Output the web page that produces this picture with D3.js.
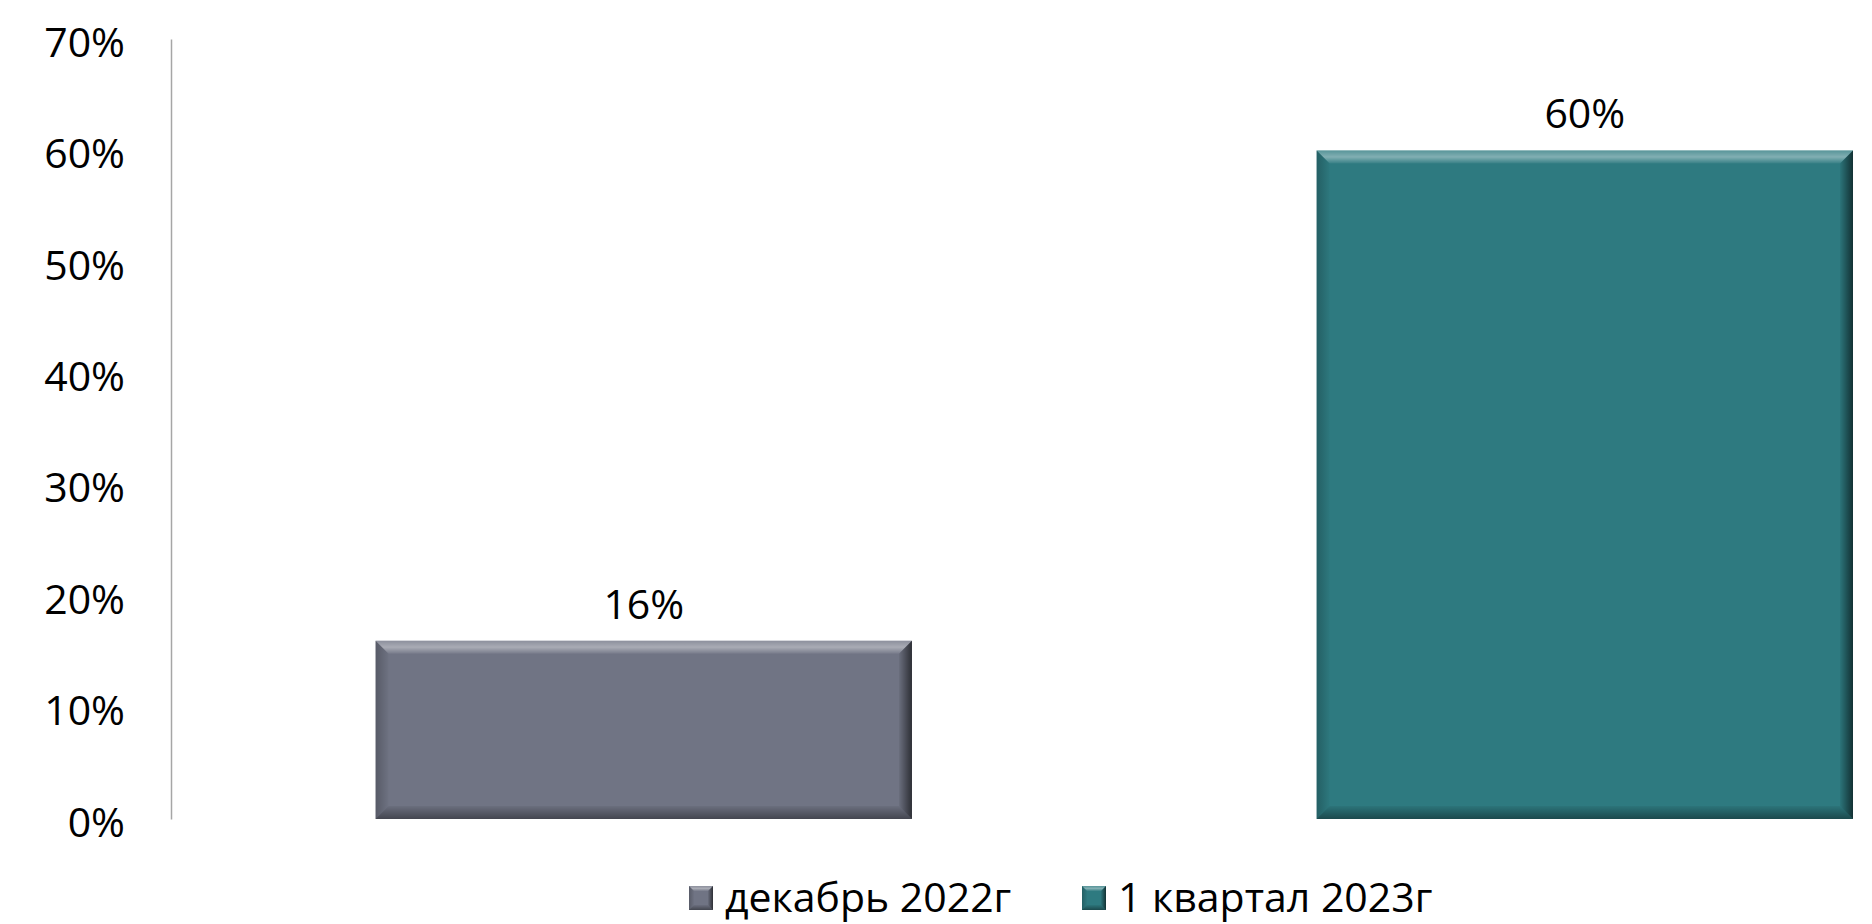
<!DOCTYPE html>
<html>
<head>
  <meta charset="utf-8">
  <title>Chart</title>
  <style>
    body { margin: 0; background: #fff; }
    text { font-family: "Open Sans", "Noto Sans", sans-serif; }
  </style>
</head>
<body>
  <div class="container"></div>

  <script src="https://d3js.org/d3.v7.min.js"></script>
  <script>
    var categories = ["декабрь 2022г", "1 квартал 2023г"];
    var values = [16, 60];
    var colors = ["#707484", "#2e7a80"];
    var tickValues = [0, 10, 20, 30, 40, 50, 60, 70];

    var width = 1872, height = 924;
    var plotLeft = 171, plotTop = 39, plotBottom = 819;

    var svg = d3.select(".container").append("svg")
      .attr("width", width)
      .attr("height", height);

    var defs = svg.append("defs");
    // bevel gradients
    function grad(id, x2, y2, stops) {
      var g = defs.append("linearGradient").attr("id", id)
        .attr("x1", 0).attr("y1", 0).attr("x2", x2).attr("y2", y2);
      stops.forEach(function(s) {
        g.append("stop").attr("offset", s[0]).attr("stop-color", s[1]).attr("stop-opacity", s[2]);
      });
    }
    grad("bvTop", 0, 1, [[0, "#ffffff", 0.2], [0.5, "#ffffff", 0.4], [1, "#ffffff", 0.05]]);
    grad("bvRight", 1, 0, [[0, "#000000", 0.05], [1, "#000000", 0.6]]);
    grad("bvBottom", 0, 1, [[0, "#000000", 0.05], [1, "#000000", 0.4]]);
    grad("bvLeft", 1, 0, [[0, "#000000", 0.22], [1, "#000000", 0.02]]);

    var yScale = d3.scaleLinear()
      .domain([0, 70])
      .range([plotBottom, plotTop]);

    var xScale = d3.scaleBand()
      .domain(categories)
      .range([plotLeft, 1853])
      .paddingInner(0.43)
      .paddingOuter(0.1087)
      .align(1);

    // y axis: line + labels only
    var yAxis = svg.append("g")
      .attr("transform", "translate(" + plotLeft + ",0)")
      .call(d3.axisLeft(yScale).tickValues(tickValues).tickSize(0).tickPadding(46)
        .tickFormat(function(d) { return d + "%"; }));
    yAxis.select(".domain").attr("stroke", "#a6a6a6").attr("stroke-width", 1.5);
    yAxis.selectAll("text")
      .attr("font-size", 41)
      .attr("fill", "#000")
      .attr("dy", "0.42em")
      .style("font-family", "'Open Sans', sans-serif");

    function bevel(g, x, y, w, h, b) {
      g.append("polygon").attr("fill", "url(#bvTop)")
        .attr("points", [[x, y], [x + w, y], [x + w - b, y + b], [x + b, y + b]].join(" "));
      g.append("polygon").attr("fill", "url(#bvRight)")
        .attr("points", [[x + w - b, y + b], [x + w, y], [x + w, y + h], [x + w - b, y + h - b]].join(" "));
      g.append("polygon").attr("fill", "url(#bvBottom)")
        .attr("points", [[x + b, y + h - b], [x + w - b, y + h - b], [x + w, y + h], [x, y + h]].join(" "));
      g.append("polygon").attr("fill", "url(#bvLeft)")
        .attr("points", [[x, y], [x + b, y + b], [x + b, y + h - b], [x, y + h]].join(" "));
    }

    var bars = svg.selectAll(".bar")
      .data(values)
      .enter()
      .append("g")
      .attr("class", "bar");

    bars.append("rect")
      .attr("x", function(d, i) { return xScale(categories[i]); })
      .attr("y", function(d) { return yScale(d); })
      .attr("width", xScale.bandwidth())
      .attr("height", function(d) { return plotBottom - yScale(d); })
      .attr("fill", function(d, i) { return colors[i]; });

    bars.each(function(d, i) {
      bevel(d3.select(this), xScale(categories[i]), yScale(d), xScale.bandwidth(), plotBottom - yScale(d), 13);
    });

    // value labels
    bars.append("text")
      .attr("x", function(d, i) { return xScale(categories[i]) + xScale.bandwidth() / 2; })
      .attr("y", function(d) { return yScale(d) - 22; })
      .attr("text-anchor", "middle")
      .attr("font-size", 41)
      .attr("fill", "#000")
      .text(function(d) { return d + "%"; });

    // legend
    var legend = svg.append("g").attr("transform", "translate(0,898)");
    var legendX = [689, 1082];
    var items = legend.selectAll(".item")
      .data(categories)
      .enter()
      .append("g")
      .attr("class", "item")
      .attr("transform", function(d, i) { return "translate(" + legendX[i] + ",0)"; });

    items.append("rect")
      .attr("x", 0).attr("y", -12)
      .attr("width", 24).attr("height", 24)
      .attr("fill", function(d, i) { return colors[i]; });
    items.each(function(d) { bevel(d3.select(this), 0, -12, 24, 24, 5); });

    items.append("text")
      .attr("x", 36)
      .attr("y", 14)
      .attr("font-size", 41)
      .attr("fill", "#000")
      .text(function(d) { return d; });
  </script>
</body>
</html>
